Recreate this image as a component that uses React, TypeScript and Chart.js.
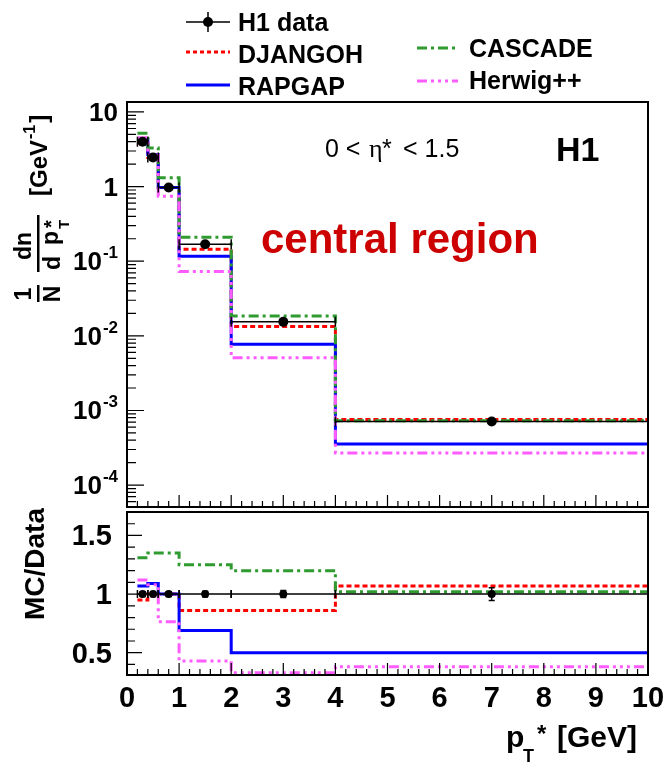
import React, { useEffect, useRef } from 'react';
import { Chart, registerables } from 'chart.js';

Chart.register(...registerables);

// ---------------- data ----------------
const binLow = [0.2, 0.4, 0.6, 1, 2, 4];
const binHigh = [0.4, 0.6, 1, 2, 4, 10];
const binCenter = [0.3, 0.5, 0.8, 1.5, 3, 7];

const h1Data = [4.0, 2.45, 0.97, 0.169, 0.0154, 0.00071];
const h1Err = [0.08, 0.05, 0.02, 0.004, 0.0005, 0.00004];
const djangoh = [3.8, 2.45, 0.97, 0.145, 0.0133, 0.00076];
const rapgap = [4.25, 2.7, 0.97, 0.117, 0.0077, 0.000355];
const cascade = [5.2, 3.3, 1.31, 0.21, 0.0185, 0.00073];
const herwig = [4.5, 2.65, 0.74, 0.073, 0.0051, 0.00027];

const ratioData = [1, 1, 1, 1, 1, 1];
const ratioDataErr = [0.02, 0.02, 0.02, 0.025, 0.03, 0.055];
const djangohRatio = [0.95, 1.0, 1.0, 0.86, 0.86, 1.07];
const rapgapRatio = [1.07, 1.09, 1.0, 0.69, 0.5, 0.5];
const cascadeRatio = [1.31, 1.35, 1.35, 1.25, 1.2, 1.02];
const herwigRatio = [1.12, 1.08, 0.765, 0.43, 0.33, 0.38];

const xTickValues = [0, 1, 2, 3, 4, 5, 6, 7, 8, 9, 10];
const mainYTickValues = [10, 1, 0.1, 0.01, 0.001, 0.0001];
const mainYTickBase = ['10', '1', '10', '10', '10', '10'];
const mainYTickExp = ['', '', '-1', '-2', '-3', '-4'];
const ratioYTickValues = [0.5, 1, 1.5];
const ratioYTickLabels = ['0.5', '1', '1.5'];

const seriesNames = ['H1 data', 'DJANGOH', 'RAPGAP', 'CASCADE', 'Herwig++'];

// ---------------- styles ----------------
const FONT = '"Liberation Sans", Arial, Helvetica, sans-serif';
const SERIF = '"Liberation Serif", "DejaVu Serif", serif';
const STY = {
  DJANGOH: { color: '#ff0000', dash: [5, 3] },
  RAPGAP: { color: '#0000ff', dash: [] as number[] },
  CASCADE: { color: '#2f9a2f', dash: [10, 4, 3, 4] },
  HERWIG: { color: '#ff5cff', dash: [10, 4, 3, 4, 3, 4, 3, 4] },
};
const RATIO_TOP = 508; // page y of the ratio canvas

function steps(vals: number[]) {
  const pts = binLow.map((x, i) => ({ x, y: vals[i] }));
  pts.push({ x: binHigh[binHigh.length - 1], y: vals[vals.length - 1] });
  return pts;
}
function points(vals: number[]) {
  return binCenter.map((x, i) => ({ x, y: vals[i] }));
}

function mcDatasets(d: number[], r: number[], c: number[], h: number[]) {
  const mk = (label: string, vals: number[], s: { color: string; dash: number[] }, order: number) => ({
    label,
    data: steps(vals),
    stepped: 'before' as const,
    borderColor: s.color,
    borderDash: s.dash,
    borderWidth: 3,
    pointRadius: 0,
    fill: false,
    order,
  });
  return [
    mk(seriesNames[1], d, STY.DJANGOH, 4),
    mk(seriesNames[2], r, STY.RAPGAP, 3),
    mk(seriesNames[3], c, STY.CASCADE, 2),
    mk(seriesNames[4], h, STY.HERWIG, 1),
  ];
}

function drawErrorBars(chart: any, vals: number[], errs: number[], cap: number) {
  const { ctx, scales } = chart;
  const x = scales.x;
  const y = scales.y;
  ctx.save();
  ctx.strokeStyle = '#000';
  ctx.lineWidth = 1.5;
  ctx.setLineDash([]);
  vals.forEach((v, i) => {
    const py = y.getPixelForValue(v);
    const xl = x.getPixelForValue(binLow[i]);
    const xh = x.getPixelForValue(binHigh[i]);
    const xc = x.getPixelForValue(binCenter[i]);
    ctx.beginPath();
    ctx.moveTo(xl, py);
    ctx.lineTo(xh, py);
    ctx.moveTo(xl, py - cap);
    ctx.lineTo(xl, py + cap);
    ctx.moveTo(xh, py - cap);
    ctx.lineTo(xh, py + cap);
    const yl = y.getPixelForValue(v - errs[i]);
    const yh = y.getPixelForValue(v + errs[i]);
    ctx.moveTo(xc, yl);
    ctx.lineTo(xc, yh);
    ctx.moveTo(xc - 3, yl);
    ctx.lineTo(xc + 3, yl);
    ctx.moveTo(xc - 3, yh);
    ctx.lineTo(xc + 3, yh);
    ctx.stroke();
  });
  ctx.restore();
}

function drawFrameAndXTicks(chart: any) {
  const { ctx, chartArea: a, scales } = chart;
  const x = scales.x;
  ctx.save();
  ctx.setLineDash([]);
  ctx.strokeStyle = '#000';
  ctx.lineWidth = 1.2;
  ctx.beginPath();
  for (let i = 0; i <= 50; i++) {
    const v = i / 5;
    const px = x.getPixelForValue(v);
    const len = i % 5 === 0 ? 12 : 6;
    ctx.moveTo(px, a.bottom);
    ctx.lineTo(px, a.bottom - len);
  }
  ctx.stroke();
  ctx.lineWidth = 2;
  ctx.strokeRect(a.left, a.top, a.right - a.left, a.bottom - a.top);
  ctx.restore();
}

const mainPlugin = {
  id: 'mainDecor',
  afterDatasetsDraw(chart: any) {
    const { ctx, chartArea: a, scales } = chart;
    const y = scales.y;
    drawErrorBars(chart, h1Data, h1Err, 5);
    drawFrameAndXTicks(chart);

    ctx.save();
    ctx.strokeStyle = '#000';
    ctx.lineWidth = 1.2;
    ctx.beginPath();
    for (let e = -5; e <= 1; e++) {
      for (let m = 1; m <= 9; m++) {
        const v = m * Math.pow(10, e);
        if (v < y.min || v > y.max) continue;
        const py = y.getPixelForValue(v);
        const len = m === 1 ? 17 : 9;
        ctx.moveTo(a.left, py);
        ctx.lineTo(a.left + len, py);
      }
    }
    ctx.stroke();

    // y tick labels
    ctx.fillStyle = '#000';
    ctx.textBaseline = 'alphabetic';
    mainYTickValues.forEach((v, i) => {
      const py = y.getPixelForValue(v);
      const right = 118;
      let xr = right;
      if (mainYTickExp[i]) {
        ctx.font = `bold 17px ${FONT}`;
        ctx.textAlign = 'right';
        ctx.fillText(mainYTickExp[i], right, py - 3);
        xr = right - ctx.measureText(mainYTickExp[i]).width - 1;
      }
      ctx.font = `bold 26px ${FONT}`;
      ctx.textAlign = 'right';
      ctx.fillText(mainYTickBase[i], xr, py + 9);
    });

    // legend
    const legendLine = (x1: number, x2: number, yy: number, color: string, dash: number[]) => {
      ctx.save();
      ctx.strokeStyle = color;
      ctx.lineWidth = 3;
      ctx.setLineDash(dash);
      ctx.beginPath();
      ctx.moveTo(x1, yy);
      ctx.lineTo(x2, yy);
      ctx.stroke();
      ctx.restore();
    };
    ctx.save();
    ctx.strokeStyle = '#000';
    ctx.lineWidth = 1.5;
    ctx.beginPath();
    ctx.moveTo(186, 22);
    ctx.lineTo(230, 22);
    ctx.moveTo(208, 12);
    ctx.lineTo(208, 32);
    ctx.stroke();
    ctx.beginPath();
    ctx.arc(208, 22, 5, 0, Math.PI * 2);
    ctx.fill();
    ctx.restore();
    legendLine(186, 230, 52, STY.DJANGOH.color, [4, 3]);
    legendLine(186, 230, 85, STY.RAPGAP.color, STY.RAPGAP.dash);
    legendLine(417, 458, 48, STY.CASCADE.color, STY.CASCADE.dash);
    legendLine(417, 458, 81, STY.HERWIG.color, STY.HERWIG.dash);
    ctx.font = `bold 25px ${FONT}`;
    ctx.textAlign = 'left';
    ctx.fillStyle = '#000';
    ctx.fillText(seriesNames[0], 238, 31);
    ctx.fillText(seriesNames[1], 238, 63);
    ctx.fillText(seriesNames[2], 238, 95);
    ctx.fillText(seriesNames[3], 469, 57);
    ctx.fillText(seriesNames[4], 469, 89);

    // eta label
    ctx.font = `25px ${FONT}`;
    ctx.fillText('0 <', 325, 157);
    ctx.font = `26px ${SERIF}`;
    ctx.fillText('\u03B7', 369, 157);
    ctx.font = `25px ${FONT}`;
    ctx.fillText('*', 382, 157);
    ctx.fillText('< 1.5', 403, 157);

    // H1
    ctx.font = `bold 34px ${FONT}`;
    ctx.fillText('H1', 556, 161);

    // central region
    ctx.fillStyle = '#cc0000';
    ctx.font = `bold 42px ${FONT}`;
    ctx.fillText('central region', 261, 253);

    // y title (rotated)
    ctx.fillStyle = '#000';
    ctx.translate(38, 300);
    ctx.rotate(-Math.PI / 2);
    ctx.font = `bold 23px ${FONT}`;
    ctx.textAlign = 'center';
    ctx.fillText('1', 6, -7);
    ctx.fillText('N', 6, 22);
    ctx.fillRect(-2, -1, 17, 2.5);
    ctx.fillText('dn', 54, -7);
    ctx.fillRect(28, -1, 57, 2.5);
    ctx.fillText('d', 37, 22);
    ctx.fillText('p', 62, 20);
    ctx.font = `bold 15px ${FONT}`;
    ctx.textAlign = 'left';
    ctx.fillText('T', 71, 31);
    ctx.font = `bold 20px ${FONT}`;
    ctx.fillText('*', 72, 20);
    ctx.font = `bold 24px ${FONT}`;
    ctx.fillText('[GeV', 104, 9);
    const w = ctx.measureText('[GeV').width;
    ctx.font = `bold 16px ${FONT}`;
    ctx.fillText('-1', 104 + w + 1, -3);
    const w2 = ctx.measureText('-1').width;
    ctx.font = `bold 24px ${FONT}`;
    ctx.fillText(']', 104 + w + w2 + 3, 9);
    ctx.restore();
  },
};

const ratioPlugin = {
  id: 'ratioDecor',
  afterDatasetsDraw(chart: any) {
    const { ctx, chartArea: a, scales } = chart;
    const x = scales.x;
    const y = scales.y;
    drawErrorBars(chart, ratioData, ratioDataErr, 4);
    drawFrameAndXTicks(chart);

    ctx.save();
    ctx.strokeStyle = '#000';
    ctx.lineWidth = 1.2;
    ctx.beginPath();
    for (let i = 4; i <= 17; i++) {
      const v = i / 10;
      if (v < y.min || v > y.max) continue;
      const py = y.getPixelForValue(v);
      const len = i % 5 === 0 ? 15 : 8;
      ctx.moveTo(a.left, py);
      ctx.lineTo(a.left + len, py);
    }
    ctx.stroke();

    ctx.fillStyle = '#000';
    ctx.font = `bold 29px ${FONT}`;
    ctx.textBaseline = 'alphabetic';
    ctx.textAlign = 'right';
    ratioYTickValues.forEach((v, i) => {
      ctx.fillText(ratioYTickLabels[i], 112, y.getPixelForValue(v) + 10);
    });
    ctx.textAlign = 'center';
    xTickValues.forEach((v) => {
      ctx.fillText(String(v), x.getPixelForValue(v), 707 - RATIO_TOP);
    });

    // x title (page coordinates shifted into this canvas)
    ctx.translate(0, -RATIO_TOP);
    ctx.textAlign = 'left';
    ctx.font = `bold 30px ${FONT}`;
    ctx.fillText('p', 506, 747);
    ctx.font = `bold 18px ${FONT}`;
    ctx.fillText('T', 523, 762);
    ctx.font = `bold 24px ${FONT}`;
    ctx.fillText('*', 537, 742);
    ctx.font = `bold 30px ${FONT}`;
    ctx.fillText('[GeV]', 557, 747);

    // MC/Data
    ctx.translate(44, 620);
    ctx.rotate(-Math.PI / 2);
    ctx.font = `bold 28px ${FONT}`;
    ctx.textAlign = 'left';
    ctx.fillText('MC/Data', 0, 0);
    ctx.restore();
  },
};

function makeChart(canvas: HTMLCanvasElement, main: boolean) {
  const dataVals = main ? h1Data : ratioData;
  const mc = main
    ? mcDatasets(djangoh, rapgap, cascade, herwig)
    : mcDatasets(djangohRatio, rapgapRatio, cascadeRatio, herwigRatio);
  return new Chart(canvas, {
    type: 'line',
    data: {
      datasets: [
        {
          label: seriesNames[0],
          data: points(dataVals),
          showLine: false,
          pointRadius: main ? 5 : 4,
          pointBackgroundColor: '#000',
          pointBorderColor: '#000',
          pointBorderWidth: 0,
          borderColor: '#000',
          order: 0,
        } as any,
        ...mc,
      ],
    },
    options: {
      responsive: false,
      animation: false,
      events: [],
      layout: {
        padding: main
          ? { left: 127, right: 15, top: 102, bottom: 2 }
          : { left: 127, right: 15, top: 2, bottom: 89 },
      },
      plugins: { legend: { display: false }, tooltip: { enabled: false } },
      scales: {
        x: { type: 'linear', min: 0, max: 10, display: false },
        y: main
          ? { type: 'logarithmic', min: 5.09e-5, max: 13.6, display: false }
          : { type: 'linear', min: 0.31, max: 1.7, display: false },
      },
    },
    plugins: [main ? mainPlugin : ratioPlugin],
  } as any);
}

export default function App() {
  const topRef = useRef<HTMLCanvasElement | null>(null);
  const botRef = useRef<HTMLCanvasElement | null>(null);
  useEffect(() => {
    document.body.style.margin = '0';
    document.body.style.background = '#ffffff';
    const c1 = makeChart(topRef.current!, true);
    const c2 = makeChart(botRef.current!, false);
    return () => {
      c1.destroy();
      c2.destroy();
    };
  }, []);
  return (
    <div style={{ position: 'absolute', left: 0, top: 0, width: 663, height: 764, background: '#fff' }}>
      <canvas ref={topRef} width={663} height={512} style={{ position: 'absolute', left: 0, top: 0, width: 663, height: 512 }} />
      <canvas ref={botRef} width={663} height={256} style={{ position: 'absolute', left: 0, top: RATIO_TOP, width: 663, height: 256 }} />
    </div>
  );
}
